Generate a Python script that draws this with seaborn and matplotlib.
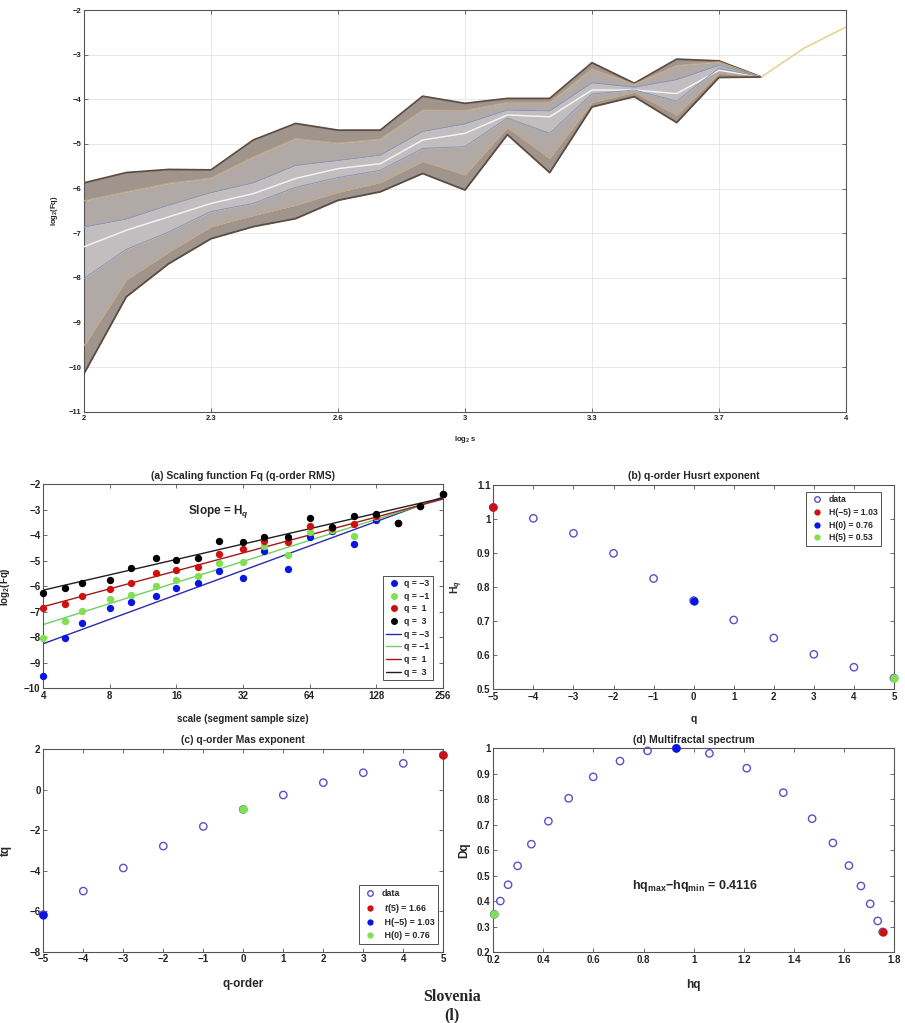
import numpy as np
import pandas as pd
import matplotlib
matplotlib.use("Agg")
import matplotlib.pyplot as plt
import seaborn as sns
from matplotlib.lines import Line2D
from matplotlib.ticker import FixedLocator, FixedFormatter, FuncFormatter, NullLocator

# ---------------- data ----------------
# top panel: log2(Fq) curves over 19 scales (x positions 2..4)
top_x = np.linspace(2, 4, 19)
top_tick_pos = np.linspace(2, 4, 7)
top_tick_labels = ["2", "2.3", "2.6", "3", "3.3", "3.7", "4"]
top_q5 = [-5.87, -5.64, -5.57, -5.58, -4.91, -4.54, -4.69, -4.69, -3.93, -4.09,
          -3.98, -3.98, -3.18, -3.64, -3.10, -3.14, -3.50, -2.86, -2.38]
top_q0 = [-7.30, -6.93, -6.63, -6.33, -6.11, -5.77, -5.55, -5.44, -4.91, -4.76,
          -4.35, -4.39, -3.79, -3.79, -3.87, -3.35, -3.50, -2.86, -2.38]
top_qm5 = [-10.14, -8.42, -7.68, -7.12, -6.85, -6.67, -6.26, -6.07, -5.66, -6.03,
           -4.79, -5.64, -4.17, -3.94, -4.52, -3.51, -3.50, -2.86, -2.38]

# panel (a): scaling function
scales = [4, 5, 6, 8, 10, 13, 16, 20, 25, 32, 40, 51, 64, 81, 102, 128, 161, 203, 256]
fq_q3 = [-6.27, -6.07, -5.88, -5.76, -5.29, -4.88, -4.98, -4.89, -4.24, -4.25,
         -4.07, -4.07, -3.32, -3.66, -3.24, -3.16, -3.50, -2.86, -2.38]
fq_q1 = [-6.86, -6.68, -6.37, -6.09, -5.87, -5.48, -5.37, -5.25, -4.72, -4.55,
         -4.24, -4.26, -3.63, -3.73, -3.56, -3.24, -3.50, -2.86, -2.38]
fq_qm1 = [-8.01, -7.36, -6.97, -6.51, -6.33, -5.97, -5.75, -5.59, -5.10, -5.06,
          -4.42, -4.76, -3.88, -3.79, -4.04, -3.30, -3.50, -2.86, -2.38]
fq_qm3 = [-9.52, -8.04, -7.42, -6.85, -6.60, -6.37, -6.08, -5.86, -5.39, -5.69,
          -4.63, -5.32, -4.07, -3.84, -4.35, -3.41, -3.50, -2.86, -2.38]
fit_q = [-3, -1, 1, 3]
fit_at_s4 = [-8.25, -7.50, -6.80, -6.15]

# panel (b): q-order Hurst exponent
q_orders = [-5, -4, -3, -2, -1, 0, 1, 2, 3, 4, 5]
hq_vals = [1.034, 1.002, 0.958, 0.899, 0.825, 0.760, 0.703, 0.650, 0.602, 0.564, 0.532]

# panel (c): mass exponent
tq_vals = [-6.17, -5.01, -3.87, -2.79, -1.82, -0.98, -0.27, 0.34, 0.83, 1.29, 1.70]

# panel (d): multifractal spectrum
spec_hq = [0.204, 0.228, 0.259, 0.297, 0.352, 0.420, 0.501, 0.599, 0.706, 0.816, 0.931,
           1.063, 1.212, 1.358, 1.473, 1.556, 1.620, 1.668, 1.705, 1.735, 1.755]
spec_dq = [0.349, 0.401, 0.465, 0.539, 0.624, 0.714, 0.804, 0.888, 0.950, 0.990, 1.000,
           0.980, 0.922, 0.826, 0.724, 0.629, 0.540, 0.460, 0.390, 0.323, 0.280]

# ---------------- style ----------------
sns.set_theme(style="ticks")
plt.rcParams["font.family"] = ["Liberation Sans", "DejaVu Sans"]
plt.rcParams.update({
    "font.weight": "bold",
    "axes.labelweight": "bold",
    "axes.titleweight": "bold",
    "mathtext.fontset": "custom",
    "mathtext.rm": "Liberation Sans:bold",
    "mathtext.it": "Liberation Sans:italic:bold",
    "mathtext.bf": "Liberation Sans:bold",
    "axes.edgecolor": "#555555",
    "axes.linewidth": 0.8,
    "xtick.color": "#555555",
    "ytick.color": "#555555",
    "xtick.labelcolor": "#222222",
    "ytick.labelcolor": "#222222",
})

OPEN_EC = "#5a50c8"
RED = "#d01010"
BLUE = "#0a14e6"
GREEN = "#80e050"

fig = plt.figure(figsize=(9.05, 10.23), dpi=100)


def style_ax(ax, labelsize=7):
    ax.tick_params(which="both", direction="in", top=True, right=True,
                   length=3, width=0.6, labelsize=labelsize, pad=2)
    for s in ax.spines.values():
        s.set_visible(True)
        s.set_color("#555555")
        s.set_linewidth(0.8)


gfmt = FuncFormatter(lambda v, p: ("%g" % round(v, 6)).replace("-", "\u2212"))

# ---------------- top panel ----------------
ax0 = fig.add_axes([84 / 905, 1 - 412 / 1023, 762 / 905, 402 / 1023])
curves = [top_q5, fq_q3, fq_q1, top_q0, fq_qm1, fq_qm3, top_qm5]
band_colors = ["#a0958d", "#b0a9a6", "#c2bec0", "#c2bec0", "#b0a9a6", "#a0958d"]
for i in range(6):
    ax0.fill_between(top_x[:17], curves[i][:17], curves[i + 1][:17],
                     color=band_colors[i], lw=0, zorder=2)
line_cols = ["#5c4c42", "#c9a77e", "#8a93b6", "#f4f4f4", "#8a93b6", "#c9a77e", "#5c4c42"]
line_w = [1.3, 0.7, 0.7, 1.0, 0.7, 0.7, 1.3]
for c, col, w in zip(curves, line_cols, line_w):
    sns.lineplot(x=top_x[:17], y=c[:17], ax=ax0, color=col, lw=w, zorder=3)
sns.lineplot(x=top_x[16:], y=top_q5[16:], ax=ax0, color="#e3cf92", lw=1.1, zorder=4)
ax0.set_xlim(2, 4)
ax0.set_ylim(-11, -2)
ax0.xaxis.set_major_locator(FixedLocator(top_tick_pos))
ax0.xaxis.set_major_formatter(FixedFormatter(top_tick_labels))
ax0.yaxis.set_major_locator(FixedLocator(np.arange(-11, -1, 1)))
ax0.yaxis.set_major_formatter(gfmt)
ax0.grid(True, color="#e4e4e4", lw=0.6, zorder=0)
style_ax(ax0, labelsize=5.5)
ax0.set_xlabel("log$_2$ s", fontsize=5.5)
ax0.set_ylabel("log$_2$(Fq)", fontsize=5.5)
ax0.xaxis.set_label_coords(0.5, -0.055)
ax0.yaxis.set_label_coords(-0.031, 0.5)

# ---------------- panel (a) ----------------
axa = fig.add_axes([43.3 / 905, 1 - 688.3 / 1023, 399.4 / 905, 204 / 1023])
pt_cols = [BLUE, GREEN, RED, "black"]
ln_cols = ["#2a2ab0", "#6fd060", "#a01818", "#202020"]
fq_sets = [fq_qm3, fq_qm1, fq_q1, fq_q3]
for q, a0, col in zip(fit_q, fit_at_s4, ln_cols):
    h = hq_vals[q_orders.index(q)]
    fit = [a0 + h * (np.log2(s) - 2) for s in scales]
    sns.lineplot(x=scales, y=fit, ax=axa, color=col, lw=1.0, zorder=2)
for fq, col in zip(fq_sets, pt_cols):
    sns.scatterplot(x=scales, y=fq, ax=axa, color=col, s=28, linewidth=0,
                    legend=False, zorder=3, clip_on=False)
axa.set_xscale("log", base=2)
axa.set_xlim(4, 256)
axa.set_ylim(-10, -2)
axa.xaxis.set_major_locator(FixedLocator([4, 8, 16, 32, 64, 128, 256]))
axa.xaxis.set_major_formatter(FuncFormatter(lambda v, p: "%d" % v))
axa.xaxis.set_minor_locator(NullLocator())
axa.yaxis.set_major_locator(FixedLocator(np.arange(-10, -1, 1)))
axa.yaxis.set_major_formatter(gfmt)
style_ax(axa)
axa.set_title("(a) Scaling function Fq (q-order RMS)", fontsize=7.5, pad=4)
axa.set_xlabel("scale (segment sample size)", fontsize=7)
axa.set_ylabel("log$_2$(Fq)", fontsize=7)
axa.xaxis.set_label_coords(0.5, -0.125)
axa.yaxis.set_label_coords(-0.078, 0.5)
axa.text(24.7, -3.07, "Slope = H$_q$", fontsize=8.5, ha="center", va="center")
qlabels = ["q = \u22123", "q = \u22121", "q =  1", "q =  3"]
handles = [Line2D([], [], ls="", marker="o", ms=4, color=c) for c in pt_cols]
handles += [Line2D([], [], color=c, lw=1.0) for c in ln_cols]
leg = axa.legend(handles, qlabels + qlabels, loc="lower right",
                 bbox_to_anchor=(1 - 10 / 399, 8 / 204), borderaxespad=0,
                 fontsize=6.3, handlelength=1.7, handletextpad=0.3,
                 labelspacing=0.42, borderpad=0.4, fancybox=False,
                 framealpha=1, edgecolor="#333333")
leg.get_frame().set_linewidth(0.6)

# ---------------- panel (b) ----------------
axb = fig.add_axes([493.3 / 905, 1 - 689 / 1023, 400.7 / 905, 204 / 1023])
sns.scatterplot(x=q_orders, y=hq_vals, ax=axb, color=OPEN_EC, facecolor="none",
                edgecolor=OPEN_EC, linewidth=1.0, s=28, legend=False, zorder=3, clip_on=False)
for idx, col in zip([0, 5, 10], [RED, BLUE, GREEN]):
    sns.scatterplot(x=[q_orders[idx]], y=[hq_vals[idx]], ax=axb, color=col, s=36,
                    linewidth=0, legend=False, zorder=4, clip_on=False)
axb.set_xlim(-5, 5)
axb.set_ylim(0.5, 1.1)
axb.xaxis.set_major_locator(FixedLocator(np.arange(-5, 6, 1)))
axb.yaxis.set_major_locator(FixedLocator(np.arange(0.5, 1.11, 0.1)))
axb.xaxis.set_major_formatter(gfmt)
axb.yaxis.set_major_formatter(gfmt)
style_ax(axb)
axb.set_title("(b) q-order Husrt exponent", fontsize=7.5, pad=4)
axb.set_xlabel("q", fontsize=7.5)
axb.set_ylabel("H$_q$", fontsize=7.5)
axb.xaxis.set_label_coords(0.5, -0.125)
axb.yaxis.set_label_coords(-0.07, 0.5)
hb = [Line2D([], [], ls="", marker="o", ms=4, mfc="none", mec=OPEN_EC, mew=1.0),
      Line2D([], [], ls="", marker="o", ms=3.5, color=RED),
      Line2D([], [], ls="", marker="o", ms=3.5, color=BLUE),
      Line2D([], [], ls="", marker="o", ms=3.5, color=GREEN)]
lb = ["data", "H(\u22125) = 1.03", "H(0) = 0.76", "H(5) = 0.53"]
leg = axb.legend(hb, lb, loc="upper right", bbox_to_anchor=(1 - 13 / 400.7, 1 - 7 / 204),
                 borderaxespad=0, fontsize=6.2, handlelength=1.7, handletextpad=0.5,
                 labelspacing=0.42, borderpad=0.4, fancybox=False, framealpha=1,
                 edgecolor="#333333")
leg.get_frame().set_linewidth(0.6)

# ---------------- panel (c) ----------------
axc = fig.add_axes([43.3 / 905, 1 - 951.7 / 1023, 400 / 905, 202.7 / 1023])
sns.scatterplot(x=q_orders, y=tq_vals, ax=axc, color=OPEN_EC, facecolor="none",
                edgecolor=OPEN_EC, linewidth=1.0, s=28, legend=False, zorder=3, clip_on=False)
for idx, col in zip([10, 0, 5], [RED, BLUE, GREEN]):
    sns.scatterplot(x=[q_orders[idx]], y=[tq_vals[idx]], ax=axc, color=col, s=36,
                    linewidth=0, legend=False, zorder=4, clip_on=False)
axc.set_xlim(-5, 5)
axc.set_ylim(-8, 2)
axc.xaxis.set_major_locator(FixedLocator(np.arange(-5, 6, 1)))
axc.yaxis.set_major_locator(FixedLocator(np.arange(-8, 3, 2)))
axc.xaxis.set_major_formatter(gfmt)
axc.yaxis.set_major_formatter(gfmt)
style_ax(axc)
axc.set_title("(c) q-order Mas exponent", fontsize=7.5, pad=4)
axc.set_xlabel("q-order", fontsize=8.5)
axc.set_ylabel("tq", fontsize=8.5)
axc.xaxis.set_label_coords(0.5, -0.13)
axc.yaxis.set_label_coords(-0.078, 0.5)
hc = [Line2D([], [], ls="", marker="o", ms=4, mfc="none", mec=OPEN_EC, mew=1.0),
      Line2D([], [], ls="", marker="o", ms=3.5, color=RED),
      Line2D([], [], ls="", marker="o", ms=3.5, color=BLUE),
      Line2D([], [], ls="", marker="o", ms=3.5, color=GREEN)]
lc = ["data", " $\\mathit{t}$(5) = 1.66", " H(\u22125) = 1.03", " H(0) = 0.76"]
leg = axc.legend(hc, lc, loc="lower right", bbox_to_anchor=(1 - 5 / 400, 8 / 202.7),
                 borderaxespad=0, fontsize=6.4, handlelength=1.7, handletextpad=0.5,
                 labelspacing=0.42, borderpad=0.4, fancybox=False, framealpha=1,
                 edgecolor="#333333")
leg.get_frame().set_linewidth(0.6)

# ---------------- panel (d) ----------------
axd = fig.add_axes([493.3 / 905, 1 - 952.3 / 1023, 400.7 / 905, 204 / 1023])
sns.scatterplot(x=spec_hq, y=spec_dq, ax=axd, color=OPEN_EC, facecolor="none",
                edgecolor=OPEN_EC, linewidth=1.0, s=28, legend=False, zorder=3, clip_on=False)
for idx, col in zip([0, 10, 20], [GREEN, BLUE, RED]):
    sns.scatterplot(x=[spec_hq[idx]], y=[spec_dq[idx]], ax=axd, color=col, s=36,
                    linewidth=0, legend=False, zorder=4, clip_on=False)
axd.set_xlim(0.2, 1.8)
axd.set_ylim(0.2, 1.0)
axd.xaxis.set_major_locator(FixedLocator(np.arange(0.2, 1.81, 0.2)))
axd.yaxis.set_major_locator(FixedLocator(np.arange(0.2, 1.01, 0.1)))
axd.xaxis.set_major_formatter(gfmt)
axd.yaxis.set_major_formatter(gfmt)
style_ax(axd)
axd.set_title("(d) Multifractal spectrum", fontsize=7.5, pad=4)
axd.set_xlabel("hq", fontsize=8.5)
axd.set_ylabel("Dq", fontsize=8.5)
axd.xaxis.set_label_coords(0.5, -0.13)
axd.yaxis.set_label_coords(-0.058, 0.5)
axd.text(1.004, 0.46, "hq$_\\mathrm{max}$\u2212hq$_\\mathrm{min}$ = 0.4116",
         fontsize=9, ha="center", va="center")

# ---------------- figure caption ----------------
fig.text(452 / 905, 1 - 997 / 1023, "Slovenia", family="Liberation Serif",
         weight="bold", fontsize=11.5, ha="center", va="center")
fig.text(452 / 905, 1 - 1015 / 1023, "(l)", family="Liberation Serif",
         weight="bold", fontsize=11.5, ha="center", va="center")

fig.savefig("out.png", dpi=100)
